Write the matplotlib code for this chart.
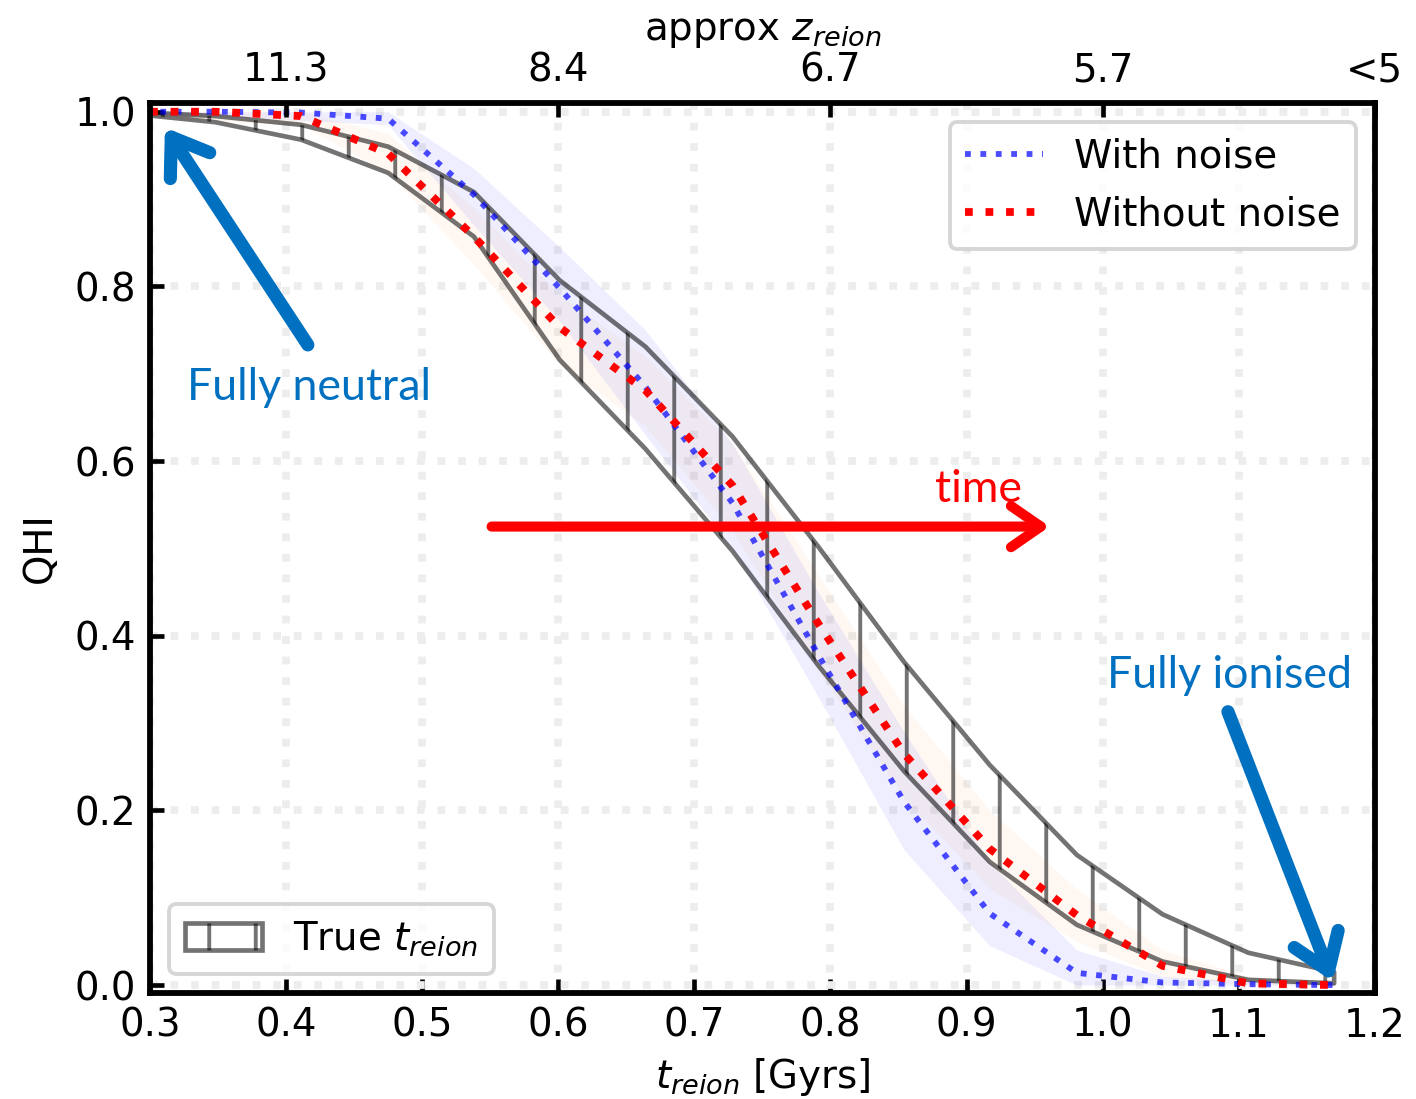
import numpy as np
import matplotlib
matplotlib.use("Agg")
import matplotlib.pyplot as plt
from matplotlib.patches import Patch

# reionisation time grid [Gyr]
t = [0.285, 0.348, 0.411, 0.475, 0.538, 0.601, 0.664, 0.728,
     0.791, 0.854, 0.917, 0.981, 1.044, 1.107, 1.170]

# true t_reion envelope (upper / lower)
true_hi = [1.000, 0.995, 0.985, 0.960, 0.908, 0.807, 0.731, 0.628,
           0.502, 0.370, 0.252, 0.149, 0.081, 0.037, 0.015]
true_lo = [0.998, 0.988, 0.968, 0.930, 0.857, 0.716, 0.614, 0.497,
           0.366, 0.245, 0.141, 0.069, 0.027, 0.006, 0.002]

# recovered QHI with noise, and its spread
noise = [1.000, 1.000, 0.999, 0.992, 0.905, 0.798, 0.685, 0.552,
         0.378, 0.210, 0.082, 0.014, 0.003, 0.001, 0.000]
noise_hi = [1.000, 1.000, 1.000, 1.000, 0.935, 0.845, 0.750, 0.620,
            0.450, 0.290, 0.140, 0.040, 0.010, 0.005, 0.002]
noise_lo = [0.995, 0.995, 0.990, 0.985, 0.870, 0.760, 0.630, 0.500,
            0.330, 0.155, 0.045, 0.000, 0.000, 0.000, 0.000]

# recovered QHI without noise, and its spread
clean = [1.000, 1.000, 0.995, 0.952, 0.857, 0.753, 0.681, 0.572,
         0.414, 0.265, 0.156, 0.080, 0.022, 0.002, 0.000]
clean_hi = [1.000, 1.000, 1.000, 0.975, 0.890, 0.790, 0.720, 0.620,
            0.470, 0.320, 0.200, 0.110, 0.040, 0.010, 0.003]
clean_lo = [0.995, 0.990, 0.985, 0.930, 0.825, 0.710, 0.640, 0.520,
            0.360, 0.215, 0.110, 0.050, 0.010, 0.000, 0.000]

top_ticks = [0.4, 0.6, 0.8, 1.0, 1.2]
top_labels = ['11.3', '8.4', '6.7', '5.7', '<5']

DPI = 279
fig = plt.figure(figsize=(1416 / DPI, 1099 / DPI), dpi=DPI)
ax = fig.add_axes([0.1059, 0.0965, 0.8651, 0.8098])

ax.fill_between(t, noise_lo, noise_hi, color='b', alpha=0.065, lw=0)
ax.fill_between(t, clean_lo, clean_hi, color='C1', alpha=0.05, lw=0)
ax.fill_between(t, true_lo, true_hi, facecolor='none', edgecolor='k',
                hatch='|', alpha=0.55, lw=1.2)

ax.plot(t, noise, ':', color='b', alpha=0.7, lw=1.5, label='With noise')
ax.plot(t, clean, ':', color='r', lw=2.0, label='Without noise')

ax.set_xlim(0.3, 1.2)
ax.set_ylim(-0.009, 1.01)
ax.set_xticks(np.arange(0.3, 1.21, 0.1))
ax.set_yticks(np.arange(0, 1.01, 0.2))
ax.grid(ls=':', lw=2, color='0.93')
ax.set_axisbelow(True)
ax.tick_params(direction='in', top=True, width=1.2, labelsize=10)
for sp in ax.spines.values():
    sp.set_linewidth(1.5)
ax.set_xlabel('$t_{reion}$ [Gyrs]', fontsize=10, labelpad=3)
ax.set_ylabel('QHI', fontsize=10)

leg1 = ax.legend(loc='upper right', fontsize=10)
ax.add_artist(leg1)
true_patch = Patch(facecolor='none', edgecolor='k', hatch='|', alpha=0.55,
                   lw=1.2, label='True $t_{reion}$')
ax.legend(handles=[true_patch], loc='lower left', fontsize=10)

ax2 = ax.twiny()
ax2.set_xlim(ax.get_xlim())
ax2.set_xticks(top_ticks)
ax2.set_xticklabels(top_labels)
ax2.tick_params(direction='in', width=1.2, labelsize=10)
ax2.set_xlabel('approx $z_{reion}$', fontsize=10, labelpad=3)

# annotations
blue = '#0070C0'
head = '->,head_length=0.55,head_width=0.38'
ax.annotate('', xy=(0.311, 0.982), xytext=(0.416, 0.733),
            arrowprops=dict(arrowstyle=head, color=blue, lw=3.4,
                            mutation_scale=16, shrinkA=0, shrinkB=0,
                            capstyle='round'))
ax.text(0.327, 0.684, 'Fully neutral', color=blue, family='Lato',
        fontsize=11.5, ha='left', va='center')

ax.annotate('', xy=(1.169, 0.004), xytext=(1.092, 0.313),
            arrowprops=dict(arrowstyle=head, color=blue, lw=3.4,
                            mutation_scale=16, shrinkA=0, shrinkB=0,
                            capstyle='round'),
            annotation_clip=False)
ax.text(1.003, 0.354, 'Fully ionised', color=blue, family='Lato',
        fontsize=11.5, ha='left', va='center')

ax.annotate('', xy=(0.961, 0.525), xytext=(0.551, 0.525),
            arrowprops=dict(arrowstyle=head, color='r', lw=2.6,
                            mutation_scale=14, shrinkA=0, shrinkB=0,
                            capstyle='round'))
ax.text(0.877, 0.567, 'time', color='r', family='Lato',
        fontsize=11.5, ha='left', va='center')

fig.savefig('out.png', dpi=DPI)
